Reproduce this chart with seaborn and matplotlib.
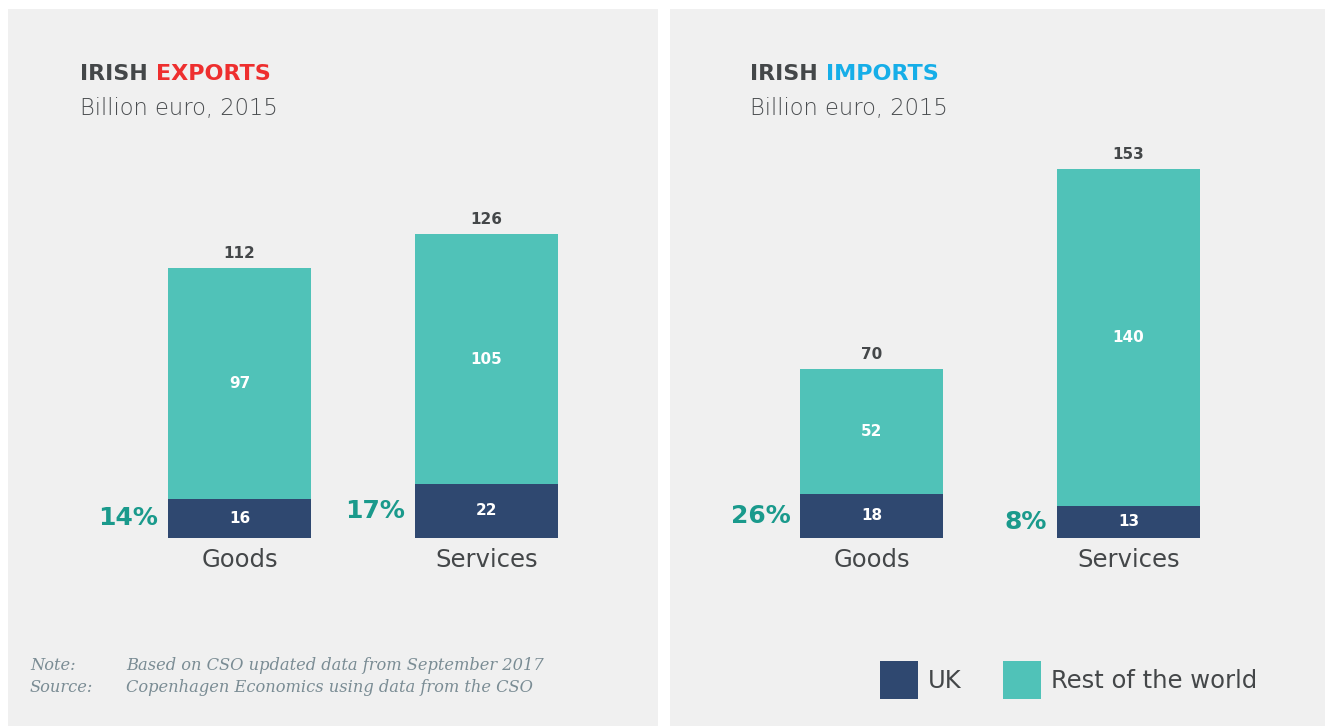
import matplotlib
matplotlib.use("Agg")
import matplotlib.pyplot as plt
import seaborn as sns
import pandas as pd
from matplotlib.patches import Rectangle

# ---- data ----
categories = ["Goods", "Services"]
exp_uk = [16, 22]
exp_row = [97, 105]
exp_total = [112, 126]
exp_pct = ["14%", "17%"]
imp_uk = [18, 13]
imp_row = [52, 140]
imp_total = [70, 153]
imp_pct = ["26%", "8%"]

NAVY = "#2f4870"
TEAL = "#50c2b8"
PCT = "#1a9a8c"
DARK = "#444749"
BG = "#f0f0f0"

sns.set_theme(style="white")
plt.rcParams["font.family"] = ["DejaVu Sans"]

W, H = 1325, 726
fig = plt.figure(figsize=(W / 100, H / 100), dpi=100)
fig.patch.set_facecolor("white")

def fx(x):
    return x / W

def fy(y):
    return 1 - y / H

# panel backgrounds
fig.patches.append(Rectangle((fx(8), 0), fx(650), fy(9), transform=fig.transFigure,
                             facecolor=BG, edgecolor="none", zorder=-5))
fig.patches.append(Rectangle((fx(670), 0), fx(655), fy(9), transform=fig.transFigure,
                             facecolor=BG, edgecolor="none", zorder=-5))

PX_PER_UNIT = 2.41
BASE = 537.5
TOP = 137.5
YMAX = (BASE - TOP) / PX_PER_UNIT


def panel(ax_left_px, ax_right_px, center0_px, spacing_px, bar_px, uk, row, totals, pcts):
    ax = fig.add_axes([fx(ax_left_px), fy(BASE), fx(ax_right_px - ax_left_px), (BASE - TOP) / H])
    ax.set_facecolor("none")
    ax.set_zorder(2)
    df = pd.DataFrame({"cat": categories, "uk": uk, "total": totals})
    width = bar_px / spacing_px
    sns.barplot(data=df, x="cat", y="total", color=TEAL, saturation=1, width=width, ax=ax,
                linewidth=0)
    sns.barplot(data=df, x="cat", y="uk", color=NAVY, saturation=1, width=width, ax=ax,
                linewidth=0)
    span = (ax_right_px - ax_left_px) / spacing_px
    xmin = -(center0_px - ax_left_px) / spacing_px
    ax.set_xlim(xmin, xmin + span)
    ax.set_ylim(0, YMAX)
    ax.axis("off")
    half = width / 2
    for i, cat in enumerate(categories):
        ax.annotate(str(totals[i]), (i, totals[i]), xytext=(0, 5), textcoords="offset points",
                    ha="center", va="bottom", fontsize=11, color=DARK, fontweight="semibold",
                    annotation_clip=False)
        ax.text(i, (uk[i] + totals[i]) / 2, str(row[i]), ha="center", va="center",
                fontsize=11, color="white", fontweight="semibold")
        ax.text(i, uk[i] / 2, str(uk[i]), ha="center", va="center",
                fontsize=11, color="white", fontweight="semibold")
        ax.annotate(pcts[i], (i - half, uk[i] / 2), xytext=(-7, 0), textcoords="offset points",
                    ha="right", va="center", fontsize=18, color=PCT, fontweight="semibold",
                    annotation_clip=False)
        ax.annotate(cat, (i, 0), xytext=(0, -16), textcoords="offset points",
                    ha="center", va="center", fontsize=17.5, color=DARK,
                    annotation_clip=False)
    return ax


panel(90, 640, 239.5, 247, 143, exp_uk, exp_row, exp_total, exp_pct)
panel(700, 1290, 871.5, 257, 143, imp_uk, imp_row, imp_total, imp_pct)

# titles
fig.canvas.draw()
renderer = fig.canvas.get_renderer()


def title(x, word, color):
    t1 = fig.text(fx(x), fy(74), "IRISH ", fontsize=16, fontweight="bold", color=DARK,
                  ha="left", va="center")
    bb = t1.get_window_extent(renderer=renderer)
    fig.text(bb.x1 / W, fy(74), word, fontsize=16, fontweight="bold", color=color,
             ha="left", va="center")
    fig.text(fx(x), fy(108), "Billion euro, 2015", fontsize=16.3, color="#4a4d50",
             ha="left", va="center", fontweight="light")


title(80, "EXPORTS", "#ee2f2f")
title(750, "IMPORTS", "#16aee8")

# notes
NOTE = "#7a8c94"
for y, a, b in [(666, "Note:", "Based on CSO updated data from September 2017"),
                (688, "Source:", "Copenhagen Economics using data from the CSO")]:
    fig.text(fx(30), fy(y), a, fontsize=11.7, style="italic", family="DejaVu Serif",
             color=NOTE, ha="left", va="center")
    fig.text(fx(126), fy(y), b, fontsize=11.7, style="italic", family="DejaVu Serif",
             color=NOTE, ha="left", va="center")

# legend
leg_items = [("UK", NAVY, 880), ("Rest of the world", TEAL, 1003)]
for label, col, x in leg_items:
    fig.patches.append(Rectangle((fx(x), fy(699)), fx(38), 38 / H, transform=fig.transFigure,
                                 facecolor=col, edgecolor="none"))
    fig.text(fx(x + 48), fy(681), label, fontsize=17.5, color=DARK, ha="left", va="center")

fig.savefig("out.png", dpi=100, facecolor="white")
